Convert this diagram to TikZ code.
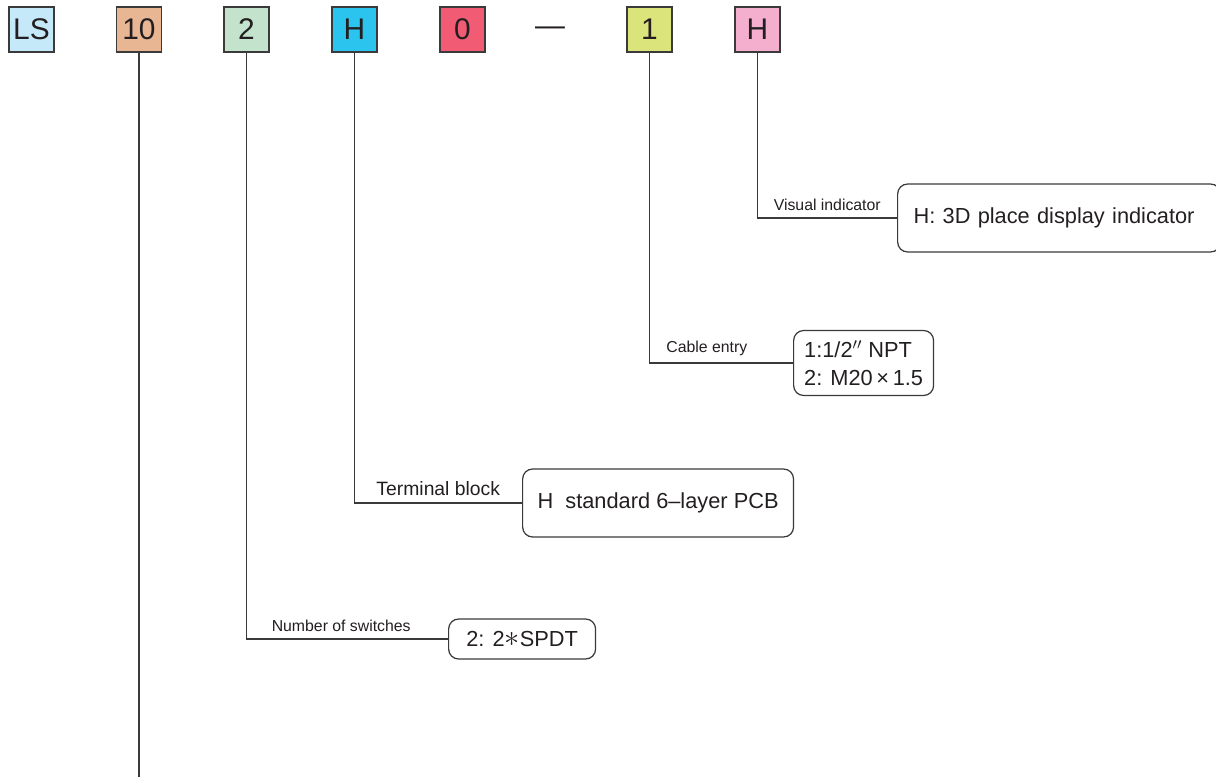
\documentclass[tikz,border=0pt]{standalone}
\usepackage{fontspec}
\setmainfont{Liberation Sans}
\usetikzlibrary{positioning}

\definecolor{lsblue}{HTML}{C6E9F9}
\definecolor{sizeorange}{HTML}{E9B694}
\definecolor{swgreen}{HTML}{C3E3CC}
\definecolor{termcyan}{HTML}{2AC4EF}
\definecolor{zerored}{HTML}{F15B73}
\definecolor{cableyellow}{HTML}{DBE37B}
\definecolor{indpink}{HTML}{F4AFCF}
\definecolor{linegray}{HTML}{3A3A3A}
\definecolor{textgray}{HTML}{231F20}

\begin{document}
\begin{tikzpicture}[
        x=0.02cm, y=-0.02cm,
        text=textgray,
        code/.style={draw=linegray, line width=0.7pt, minimum size=0.9cm, inner sep=0pt, font=\fontsize{17}{20}\selectfont},
        opt/.style={draw=linegray, line width=0.7pt, rounded corners=0.2cm, anchor=west, align=left, inner sep=0pt, font=\fontsize{12.4}{16}\selectfont},
        lbl/.style={font=\fontsize{9}{11}\selectfont, above=2pt, inner sep=2pt},
        lead/.style={draw=linegray, line width=0.6pt}
    ]
    \useasboundingbox (0,0) rectangle (1216,777);

    % ---- model code ----
    \node[code, fill=lsblue] (ls) at (31.5,29.5) {LS};
    \node[code, fill=sizeorange] (size) at (139,29.5) {10};
    \node[code, fill=swgreen] (sw) at (246.5,29.5) {2};
    \node[code, fill=termcyan] (term) at (354.5,29.5) {H};
    \node[code, fill=zerored] (zero) at (462.5,29.5) {0};
    \node[font=\fontsize{17}{20}\selectfont] (dash) at (550,31) {—};
    \node[code, fill=cableyellow] (cable) at (649.5,29.5) {1};
    \node[code, fill=indpink] (ind) at (757.5,29.5) {H};

    % ---- option boxes ----
    \node[opt, text width=5.82cm, inner xsep=0.32cm, minimum height=1.36cm] (indopt) at (897,218) {H: 3D place display indicator};
    \node[opt, minimum width=2.8cm, minimum height=1.3cm] (cableopt) at (793,363) {1:1/2$''$ NPT\\2: M20\,×\,1.5};
    \node[opt, minimum width=5.42cm, minimum height=1.36cm] (termopt) at (522,503) {H\ \ standard 6–layer PCB};
    \node[opt, minimum width=2.94cm, minimum height=0.8cm] (swopt) at (448,639) {2: 2{\fontsize{18}{18}\selectfont$\ast$}SPDT};

    % ---- leaders ----
    \coordinate (sizeend) at (139,777);
    \draw[lead] (size.south) -- (sizeend);
    \draw[lead] (sw.south) |- node[lbl, pos=0.735] {Number of switches} (swopt.west);
    \draw[lead] (term.south) |- node[lbl, pos=0.75, font=\fontsize{11}{13}\selectfont] {Terminal block} (termopt.west);
    \draw[lead] (cable.south) |- node[lbl, pos=0.7] {Cable entry} (cableopt.west);
    \draw[lead] (ind.south) |- node[lbl, pos=0.75] {Visual indicator} (indopt.west);

\end{tikzpicture}
\end{document}
